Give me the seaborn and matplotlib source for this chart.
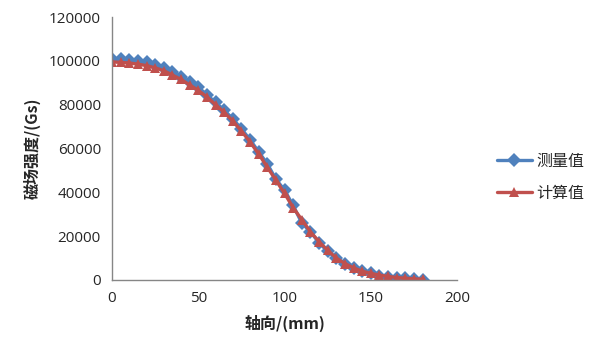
import matplotlib
matplotlib.use("Agg")
import matplotlib.pyplot as plt
import seaborn as sns
import pandas as pd

x_mm = list(range(0, 181, 5))
measured = [101000, 100800, 100500, 100000, 99300, 98000, 96500, 95000, 92500, 90500,
            88000, 84500, 81000, 77500, 73500, 69000, 64000, 58500, 53000, 46000,
            41000, 34000, 26000, 22000, 17000, 13000, 10000, 7500, 5500, 4000,
            3000, 2000, 1500, 1000, 700, 400, 200]
calculated = [99500, 99300, 99000, 98500, 97800, 96800, 95500, 93500, 91500, 89000,
              86500, 83500, 80000, 76500, 72500, 68000, 63000, 57500, 51500, 45500,
              39500, 33000, 27500, 22000, 17500, 13500, 10000, 7500, 5500, 4000,
              3000, 2200, 1600, 1100, 800, 500, 300]
series_names = ["测量值", "计算值"]
x_ticks = [0, 50, 100, 150, 200]
y_ticks = [0, 20000, 40000, 60000, 80000, 100000, 120000]

sns.set_style("white")
plt.rcParams['font.family'] = ['Noto Sans CJK SC', 'DejaVu Sans']

df = pd.DataFrame({
    "x": x_mm * 2,
    "y": measured + calculated,
    "series": [series_names[0]] * len(x_mm) + [series_names[1]] * len(x_mm),
})

fig = plt.figure(figsize=(5.99, 3.58), dpi=100)
ax = fig.add_axes([0.187, 0.218, 0.576, 0.7345])

palette = {series_names[0]: "#4F81BD", series_names[1]: "#C0504D"}
sns.lineplot(data=df, x="x", y="y", hue="series", style="series",
             markers={series_names[0]: "D", series_names[1]: "^"},
             dashes=False, palette=palette, linewidth=2.4, markersize=7,
             markeredgewidth=0, ax=ax, legend=False)

ax.set_xlim(0, 200)
ax.set_ylim(0, 120000)
ax.set_xticks(x_ticks)
ax.set_yticks(y_ticks)
ax.tick_params(axis='both', length=0, labelsize=11, pad=8)
for lbl in ax.get_xticklabels() + ax.get_yticklabels():
    lbl.set_fontfamily(['Open Sans', 'DejaVu Sans'])
for s in ["top", "right"]:
    ax.spines[s].set_visible(False)
for s in ["left", "bottom"]:
    ax.spines[s].set_color("#868686")
    ax.spines[s].set_linewidth(1.0)

ax.set_xlabel("轴向/(mm)", fontsize=11.5, fontweight="bold", labelpad=6)
ax.set_ylabel("磁场强度/(Gs)", fontsize=11.5, fontweight="bold", labelpad=6)

handles = [
    plt.Line2D([], [], color="#4F81BD", marker="D", markersize=7, linewidth=2.4, markeredgewidth=0),
    plt.Line2D([], [], color="#C0504D", marker="^", markersize=7, linewidth=2.4, markeredgewidth=0),
]
fig.legend(handles, series_names, loc="center left", bbox_to_anchor=(0.805, 0.505),
           frameon=False, fontsize=11.5, handlelength=2.2, labelspacing=0.95, handletextpad=0.3)

fig.savefig("out.png", dpi=100)
